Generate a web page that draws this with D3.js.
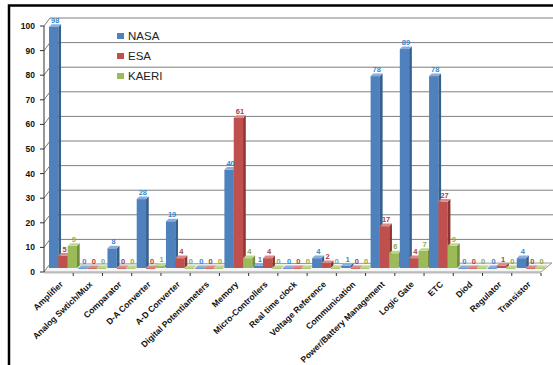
<!DOCTYPE html>
<html><head><meta charset="utf-8">
<script src="https://cdn.jsdelivr.net/npm/d3@7"></script>
<style>body{margin:0;background:#fff}svg{display:block}</style></head>
<body>
<svg id="c" width="553" height="365"></svg>
<script>
const categories = ["Amplifier","Analog Swtich/Mux","Comparator","D-A Converter","A-D Converter","Digital Potentiameters","Memory","Micro-Controllers","Real time clock","Voltage Reference","Communication","Power/Battery Management","Logic Gate","ETC","Diod","Regulator","Transistor"];
const seriesNames = ["NASA","ESA","KAERI"];
const nasa  = [98,0,8,28,19,0,40,1,0,4,1,78,89,78,0,0,4];
const esa   = [5,0,0,0,4,0,61,4,0,2,0,17,4,27,0,1,0];
const kaeri = [9,0,0,1,0,0,4,0,0,0,0,6,7,9,0,0,0];
const yTicks = [0,10,20,30,40,50,60,70,80,90,100];

const front = ["#4F81BD","#C0504D","#9BBB59"];
const side  = ["#35608f","#8e3532","#718c3c"];
const topC  = ["#8aaedb","#db8a88","#c0d68e"];
const lab   = ["#3a86cc","#a9403c","#8aab45"];

const svg = d3.select("#c");
const FONT = "'Liberation Sans', Arial, sans-serif";

const x0 = d3.scaleBand().domain(categories).range([44, 541]).paddingInner(0).paddingOuter(0);
const x1 = d3.scaleBand().domain(seriesNames).range([0, 28]);
const y = d3.scaleLinear().domain([0, 100]).range([272, 26]);

const WDX = 6, WDY = -8;     // wall depth
const BDX = 5, BDY = -4;     // bar offset (middle depth)
const SD = 2.7, TD = 2.6;    // bar side depth / top

// gridlines on back wall + side-wall diagonals
yTicks.forEach(v => {
  const yy = y(v);
  if (v > 0) {
    svg.append("line").attr("x1", 44 + WDX).attr("x2", 553).attr("y1", yy + WDY).attr("y2", yy + WDY)
      .attr("stroke", "#7f7f7f").attr("stroke-width", 1);
  }
  svg.append("line").attr("x1", 44).attr("y1", yy).attr("x2", 44 + WDX).attr("y2", yy + WDY)
    .attr("stroke", "#555").attr("stroke-width", 0.8);
  svg.append("line").attr("x1", 40).attr("y1", yy).attr("x2", 44).attr("y2", yy)
    .attr("stroke", "#333").attr("stroke-width", 1);
  svg.append("text").attr("x", 35).attr("y", yy + 3).attr("text-anchor", "end")
    .attr("font-family", FONT).attr("font-weight", "bold").attr("font-size", 8.5).attr("fill", "#111").text(v);
});

// floor
const fy = y(0);
svg.append("polygon").attr("points", `44,${fy} 541,${fy} 552,${fy - 9} ${44 + WDX},${fy + WDY}`)
  .attr("fill", "#f5f5f5").attr("stroke", "#9a9a9a").attr("stroke-width", 1);
svg.append("polygon").attr("points", `44,${fy} 541,${fy} 541,${fy + 1.5} 44,${fy + 1.5}`)
  .attr("fill", "#bbb");

// y axis line
svg.append("line").attr("x1", 44).attr("x2", 44).attr("y1", y(100)).attr("y2", fy)
  .attr("stroke", "#333").attr("stroke-width", 1);

// bars
const seriesVals = [nasa, esa, kaeri];
categories.forEach((c, ci) => {
  seriesNames.forEach((s, si) => {
    const v = seriesVals[si][ci];
    const bx = x0(c) + BDX + x1(s);
    const w = x1.bandwidth();
    const ty = y(v) + BDY;
    const by = y(0) + BDY;
    const g = svg.append("g");
    g.append("rect").attr("x", bx).attr("y", ty).attr("width", w).attr("height", Math.max(0.8, by - ty))
      .attr("fill", front[si]);
    g.append("polygon").attr("points", `${bx + w},${ty} ${bx + w + SD},${ty - TD} ${bx + w + SD},${by - TD} ${bx + w},${by}`)
      .attr("fill", side[si]);
    g.append("polygon").attr("points", `${bx},${ty} ${bx + w},${ty} ${bx + w + SD},${ty - TD} ${bx + SD},${ty - TD}`)
      .attr("fill", topC[si]);
  });
});

// value labels
categories.forEach((c, ci) => {
  seriesNames.forEach((s, si) => {
    const v = seriesVals[si][ci];
    const bx = x0(c) + BDX + x1(s);
    const w = x1.bandwidth();
    svg.append("text").attr("x", bx + w / 2 + 1.5).attr("y", y(v) + BDY - 4)
      .attr("text-anchor", "middle").attr("font-family", FONT).attr("font-weight", "bold")
      .attr("font-size", 7.5).attr("fill", lab[si]).text(v);
  });
});

// x ticks
categories.forEach((c, ci) => {
  const xx = x0(c) + x0.bandwidth();
  svg.append("line").attr("x1", xx).attr("x2", xx).attr("y1", fy + 1).attr("y2", fy + 4)
    .attr("stroke", "#333").attr("stroke-width", 1);
});

// x labels
categories.forEach(c => {
  const cx = x0(c) + x0.bandwidth() / 2 + 5;
  svg.append("text").attr("transform", `translate(${cx},${fy + 13}) rotate(-44)`)
    .attr("text-anchor", "end").attr("font-family", FONT).attr("font-weight", "bold")
    .attr("font-size", 8.6).attr("fill", "#111").text(c);
});

// legend
seriesNames.forEach((s, si) => {
  const ly = 33 + si * 20;
  svg.append("rect").attr("x", 117).attr("y", ly).attr("width", 7).attr("height", 6).attr("fill", front[si]);
  svg.append("text").attr("x", 128).attr("y", ly + 6.5).attr("font-family", FONT)
    .attr("font-size", 11.5).attr("fill", "#222").text(s);
});

// frame
svg.append("path").attr("d", "M9,365 V5.5 H553").attr("fill", "none").attr("stroke", "#000").attr("stroke-width", 2.5);
</script>
</body></html>
